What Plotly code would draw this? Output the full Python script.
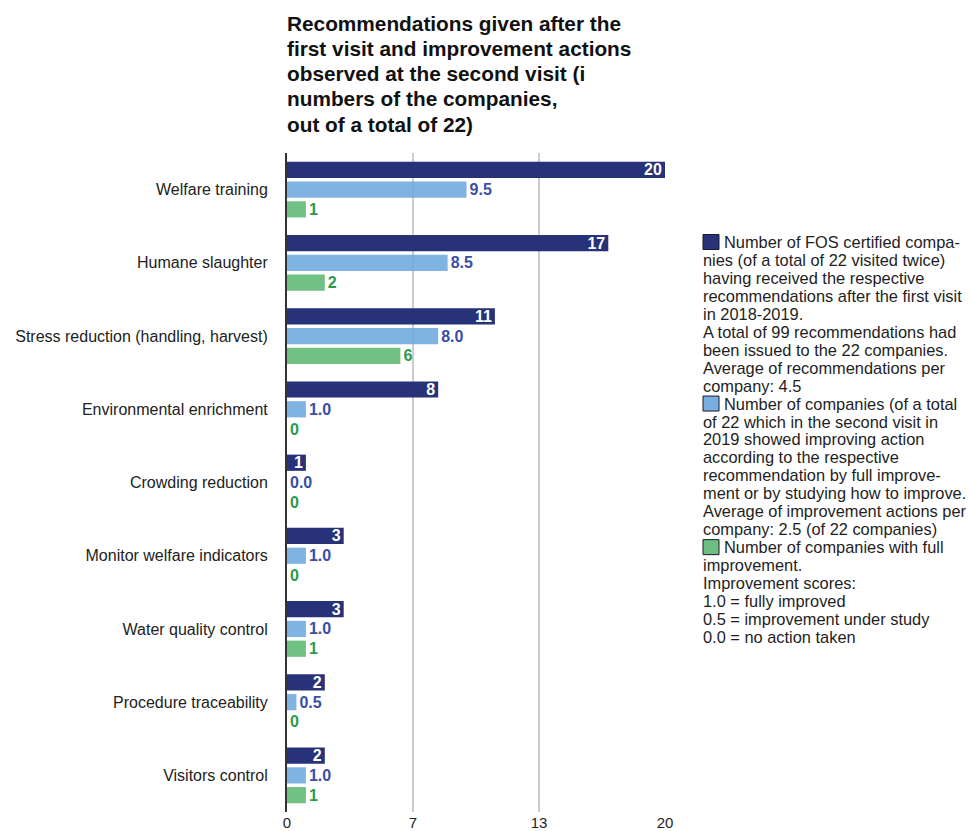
import plotly.graph_objects as go

categories = [
    "Welfare training",
    "Humane slaughter",
    "Stress reduction (handling, harvest)",
    "Environmental enrichment",
    "Crowding reduction",
    "Monitor welfare indicators",
    "Water quality control",
    "Procedure traceability",
    "Visitors control",
]
recommendations = [20, 17, 11, 8, 1, 3, 3, 2, 2]
improvement_actions = [9.5, 8.5, 8.0, 1.0, 0.0, 1.0, 1.0, 0.5, 1.0]
full_improvement = [1, 2, 6, 0, 0, 0, 1, 0, 1]

tick_vals = [0, 20 / 3, 40 / 3, 20]
tick_text = ["0", "7", "13", "20"]

title_lines = [
    "Recommendations given after the",
    "first visit and improvement actions",
    "observed at the second visit (i",
    "numbers of the companies,",
    "out of a total of 22)",
]

legend_lines = [
    "Number of FOS certified compa-",
    "nies (of a total of 22 visited twice)",
    "having received the respective",
    "recommendations after the first visit",
    "in 2018-2019.",
    "A total of 99 recommendations had",
    "been issued to the 22 companies.",
    "Average of recommendations per",
    "company: 4.5",
    "Number of companies (of a total",
    "of 22 which in the second visit in",
    "2019 showed improving action",
    "according to the respective",
    "recommendation by full improve-",
    "ment or by studying how to improve.",
    "Average of improvement actions per",
    "company: 2.5 (of 22 companies)",
    "Number of companies with full",
    "improvement.",
    "Improvement scores:",
    "1.0 = fully improved",
    "0.5 = improvement under study",
    "0.0 = no action taken",
]
legend_square_lines = [0, 9, 17]

DARK = "#283278"
LIGHT = "rgba(110,168,222,0.88)"
LIGHT_SOLID = "#78aee0"
GREEN = "rgba(96,186,118,0.9)"
GREEN_SOLID = "#6cbf80"
FONT = "Liberation Sans"

W, H = 972, 831
L, R, T, B = 287, 665, 153, 812


def px_x(px):
    return (px - L) / (R - L)


def px_y(py):
    return (B - py) / (B - T)


fig = go.Figure()
fig.add_trace(go.Bar(
    y=categories, x=recommendations, orientation="h",
    marker=dict(color=DARK, line=dict(width=0)),
    texttemplate="%{x}", textposition="inside", insidetextanchor="end",
    textangle=0, constraintext="none",
    insidetextfont=dict(color="white", size=16, family=FONT, weight="bold"),
    cliponaxis=False, showlegend=False,
))
fig.add_trace(go.Bar(
    y=categories, x=improvement_actions, orientation="h",
    marker=dict(color=LIGHT, line=dict(width=0)),
    texttemplate="%{x:.1f}", textposition="outside", textangle=0,
    constraintext="none",
    outsidetextfont=dict(color="#3a4ea6", size=16, family=FONT, weight="bold"),
    cliponaxis=False, showlegend=False,
))
fig.add_trace(go.Bar(
    y=categories, x=full_improvement, orientation="h",
    marker=dict(color=GREEN, line=dict(width=0)),
    texttemplate="%{x}", textposition="outside", textangle=0,
    constraintext="none",
    outsidetextfont=dict(color="#2a9a4c", size=16, family=FONT, weight="bold"),
    cliponaxis=False, showlegend=False,
))

annotations = []
for i, line in enumerate(title_lines):
    annotations.append(dict(
        text=line, xref="paper", yref="paper", x=px_x(285), y=px_y(23 + 25.3 * i),
        xanchor="left", yanchor="middle", showarrow=False,
        font=dict(size=20.8, family=FONT, color="#111", weight="bold"),
    ))

shapes = []
sq_colors = [DARK, LIGHT_SOLID, GREEN_SOLID]
for i, line in enumerate(legend_lines):
    cy = 242 + 17.95 * i
    x0 = 701
    if i in legend_square_lines:
        k = legend_square_lines.index(i)
        shapes.append(dict(
            type="rect", xref="paper", yref="paper",
            x0=px_x(703), x1=px_x(719), y0=px_y(cy + 7.5), y1=px_y(cy - 7.5),
            fillcolor=sq_colors[k], line=dict(color="#1a1a2a", width=1),
        ))
        x0 = 722
    annotations.append(dict(
        text=line, xref="paper", yref="paper", x=px_x(x0), y=px_y(cy),
        xanchor="left", yanchor="middle", showarrow=False,
        font=dict(size=16.4, family=FONT, color="#1e1e1e"),
    ))

fig.update_layout(
    width=W, height=H,
    margin=dict(l=L, r=W - R, t=T, b=H - B),
    paper_bgcolor="white", plot_bgcolor="white",
    barmode="group", bargap=0.19, bargroupgap=0.18,
    font=dict(family=FONT, color="#222"),
    annotations=annotations, shapes=shapes,
    xaxis=dict(
        range=[0, 20], tickvals=tick_vals, ticktext=tick_text,
        showgrid=True, gridcolor="#cccccc", gridwidth=2,
        zeroline=False, showline=False, ticks="",
        tickfont=dict(size=15, family=FONT, color="#222"),
        automargin=False, fixedrange=True,
    ),
    yaxis=dict(
        categoryorder="array", categoryarray=categories, autorange="reversed",
        showgrid=False, zeroline=False, showline=True,
        linecolor="#333333", linewidth=2, ticks="",
        ticklabelstandoff=14,
        tickfont=dict(size=16, family=FONT, color="#222"),
        automargin=False, fixedrange=True,
    ),
)

fig.write_html("out.html")
